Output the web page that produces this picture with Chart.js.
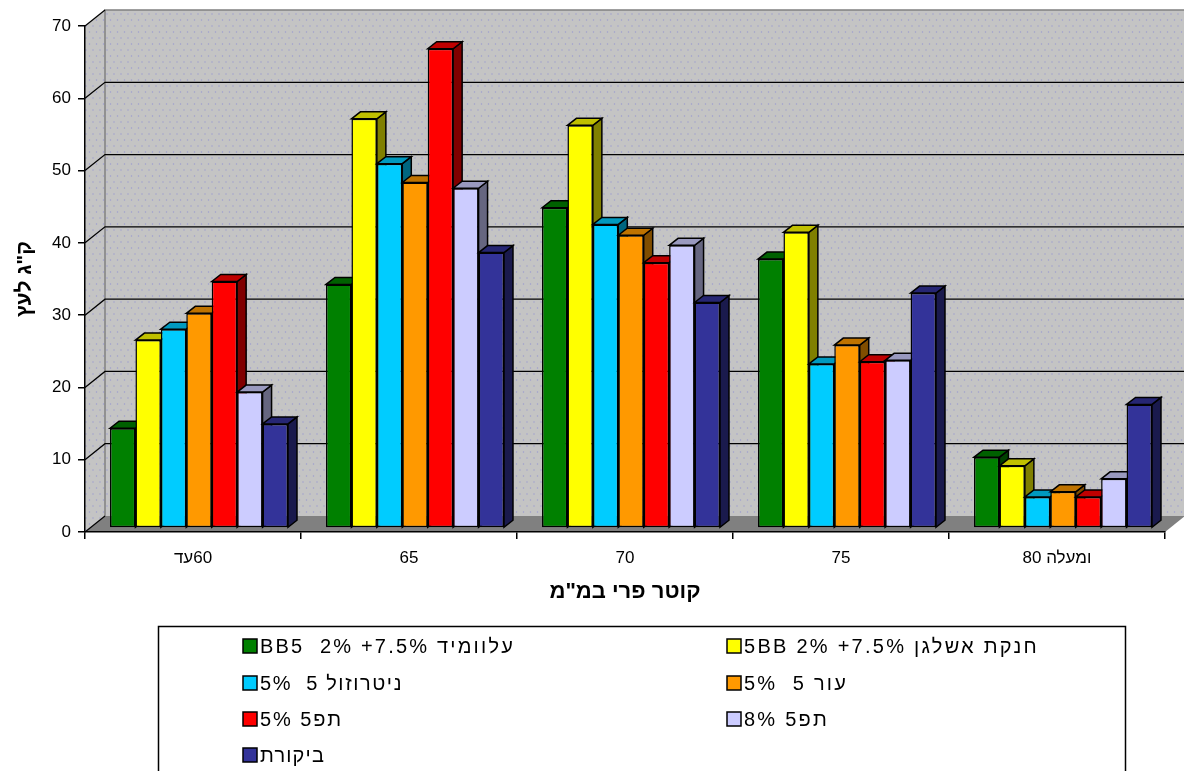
<!DOCTYPE html>
<html lang="he">
<head>
<meta charset="utf-8">
<title>chart</title>
<style>
html,body{margin:0;padding:0;background:#fff;overflow:hidden}
canvas{display:block;filter:blur(0.55px)}
</style>
<script src="https://cdn.jsdelivr.net/npm/chart.js@4/dist/chart.umd.min.js"></script>
</head>
<body>
<canvas id="c" width="1184" height="771"></canvas>
<script>
const categories = ['עד\u200E60', '65', '70', '75', 'ומעלה 80'];
const seriesNames = [
  'BB5  2% +7.5% עלוומיד',
  '5BB 2% +7.5% חנקת אשלגן',
  '5%  5 ניטרוזול',
  '5%  5 עור',
  '5% 5תפ',
  '8% 5תפ',
  'ביקורת'
];
const green    = [13.8, 33.7, 44.3, 37.2, 9.8];
const yellow   = [26.0, 56.6, 55.7, 40.9, 8.6];
const cyan     = [27.5, 50.4, 42.0, 22.7, 4.3];
const orange   = [29.7, 47.8, 40.5, 25.3, 5.0];
const red      = [34.1, 66.3, 36.7, 23.0, 4.3];
const lavender = [18.8, 47.0, 39.1, 23.2, 6.8];
const navy     = [14.4, 38.1, 31.2, 32.5, 17.1];
const seriesValues = [green, yellow, cyan, orange, red, lavender, navy];
const fronts = ['#008000', '#FFFF00', '#00CCFF', '#FF9900', '#FF0000', '#CCCCFF', '#333399'];
const tops   = ['#006000', '#C0C000', '#0099BF', '#BF7300', '#BF0000', '#9999BF', '#262673'];
const sides  = ['#004000', '#808000', '#006680', '#804D00', '#800000', '#666680', '#1A1A4D'];
const yTitle = 'ק"ג לעץ';
const xTitle = 'קוטר פרי במ"מ';
const yMax = 70, yStep = 10;

const FONT = '"Liberation Sans", Arial, sans-serif';
const WALL = {dx: 20, dy: 16};
const BAR_SHIFT = {x: 6, y: -4};
const BAR_DEPTH = {x: 9, y: 7};
const LEGEND = {
  box: [158.5, 626.5, 967],
  cols: [243, 727],
  rows: [646, 683, 719, 755],
  widths: [255, 295, 143, 104, 83, 85, 65]
};

function dotPattern(ctx) {
  const p = document.createElement('canvas');
  p.width = 14; p.height = 12;
  const g = p.getContext('2d');
  g.fillStyle = '#C4C4C4'; g.fillRect(0, 0, 14, 12);
  g.fillStyle = '#9C9CD0';
  [[2, 2], [9, 2], [5.5, 8], [12.5, 8]].forEach(([x, y]) => {
    g.beginPath(); g.arc(x, y, 0.7, 0, Math.PI * 2); g.fill();
  });
  return ctx.createPattern(p, 'repeat');
}

function poly(ctx, pts, fill, stroke, lw) {
  ctx.beginPath();
  pts.forEach(([x, y], i) => i ? ctx.lineTo(x, y) : ctx.moveTo(x, y));
  ctx.closePath();
  if (fill) { ctx.fillStyle = fill; ctx.fill(); }
  if (stroke) { ctx.strokeStyle = stroke; ctx.lineWidth = lw || 1; ctx.stroke(); }
}

const walls3d = {
  id: 'walls3d',
  beforeDraw(chart) {
    const {ctx, chartArea: a, scales: {y}, width} = chart;
    const pat = dotPattern(ctx);
    const {dx, dy} = WALL;
    ctx.save();
    ctx.fillStyle = '#fff'; ctx.fillRect(0, 0, chart.width, chart.height);
    poly(ctx, [[a.left, a.bottom], [a.left, a.top], [a.left + dx, a.top - dy], [a.left + dx, a.bottom - dy]], pat);
    poly(ctx, [[a.left + dx, a.top - dy], [width, a.top - dy], [width, a.bottom - dy], [a.left + dx, a.bottom - dy]], pat);
    poly(ctx, [[a.left, a.bottom], [a.left + dx, a.bottom - dy], [width, a.bottom - dy], [a.right + dx, a.bottom - dy], [a.right, a.bottom]], '#808080');
    ctx.strokeStyle = '#808080'; ctx.lineWidth = 1.5;
    ctx.beginPath();
    ctx.moveTo(a.left + dx, a.bottom - dy); ctx.lineTo(a.left + dx, a.top - dy); ctx.lineTo(width, a.top - dy);
    ctx.stroke();
    y.ticks.forEach((t, i) => {
      const py = y.getPixelForTick(i);
      ctx.strokeStyle = '#000'; ctx.lineWidth = 1.3;
      ctx.beginPath();
      ctx.moveTo(a.left, py); ctx.lineTo(a.left + dx, py - dy);
      if (t.value > 0 && t.value < yMax) ctx.lineTo(width, py - dy);
      ctx.stroke();
    });
    ctx.restore();
  },
  beforeDatasetsDraw(chart) {
    const ctx = chart.ctx;
    ctx.save();
    ctx.translate(BAR_SHIFT.x, BAR_SHIFT.y);
    chart.getSortedVisibleDatasetMetas().forEach(meta => {
      const i = meta.index;
      meta.data.forEach(bar => {
        const {x, y, base, width} = bar.getProps(['x', 'y', 'base', 'width'], true);
        const l = x - width / 2, r = x + width / 2;
        const {x: ox, y: oy} = BAR_DEPTH;
        poly(ctx, [[r, y], [r + ox, y - oy], [r + ox, base - oy], [r, base]], sides[i], '#000', 1.5);
        poly(ctx, [[l, y], [l + ox, y - oy], [r + ox, y - oy], [r, y]], tops[i], '#000', 1.5);
      });
      meta.controller.draw();
    });
    ctx.restore();
    return false;
  },
  afterDraw(chart) {
    const ctx = chart.ctx;
    const {box: [bx, by, bw], cols, rows, widths} = LEGEND;
    ctx.save();
    ctx.strokeStyle = '#000'; ctx.lineWidth = 1.5;
    ctx.beginPath();
    ctx.moveTo(bx, chart.height + 5); ctx.lineTo(bx, by); ctx.lineTo(bx + bw, by); ctx.lineTo(bx + bw, chart.height + 5);
    ctx.stroke();
    ctx.textBaseline = 'middle'; ctx.textAlign = 'left';
    ctx.direction = 'ltr';
    chart.data.datasets.forEach((ds, i) => {
      const cx = cols[i % 2], cy = rows[Math.floor(i / 2)];
      ctx.fillStyle = ds.backgroundColor;
      ctx.fillRect(cx, cy - 7, 14, 14);
      ctx.strokeStyle = '#000'; ctx.lineWidth = 1.5;
      ctx.strokeRect(cx, cy - 7, 14, 14);
      ctx.fillStyle = '#000';
      ctx.font = '20px ' + FONT;
      ctx.letterSpacing = '0px';
      const extra = (widths[i] - ctx.measureText(ds.label).width) / ds.label.length;
      ctx.letterSpacing = extra.toFixed(2) + 'px';
      ctx.fillText(ds.label, cx + 17, cy + 1);
      ctx.letterSpacing = '0px';
    });
    ctx.restore();
  }
};

new Chart(document.getElementById('c'), {
  type: 'bar',
  data: {
    labels: categories,
    datasets: seriesValues.map((values, i) => ({
      label: seriesNames[i],
      data: values,
      backgroundColor: fronts[i],
      borderColor: '#000',
      borderWidth: 1.5,
      borderSkipped: false,
      clip: false
    }))
  },
  options: {
    responsive: false,
    animation: false,
    events: [],
    layout: {padding: {top: 26, right: 19, left: 0, bottom: 0}},
    datasets: {bar: {categoryPercentage: 0.824, barPercentage: 1}},
    plugins: {legend: {display: false}, tooltip: {enabled: false}, title: {display: false}},
    scales: {
      x: {
        afterFit(s) { s.height = 239; },
        grid: {drawOnChartArea: false, color: '#000', lineWidth: 1.5, tickLength: 7, tickColor: '#000'},
        border: {color: '#000', width: 1.5},
        ticks: {color: '#000', font: {family: FONT, size: 17}, padding: 9, maxRotation: 0},
        title: {display: true, text: xTitle, color: '#000', font: {family: FONT, size: 22, weight: 'bold'}, padding: {top: 0, bottom: 166}}
      },
      y: {
        min: 0, max: yMax,
        afterFit(s) { s.width = 85; },
        grid: {drawOnChartArea: false, color: '#000', lineWidth: 1.5, tickLength: 7, tickColor: '#000'},
        border: {color: '#000', width: 1.5},
        ticks: {stepSize: yStep, color: '#000', font: {family: FONT, size: 17}, padding: 7},
        title: {display: true, text: yTitle, color: '#000', font: {family: FONT, size: 21, weight: 'bold'}, padding: {top: 13, bottom: 0}}
      }
    }
  },
  plugins: [walls3d]
});
</script>
</body>
</html>
